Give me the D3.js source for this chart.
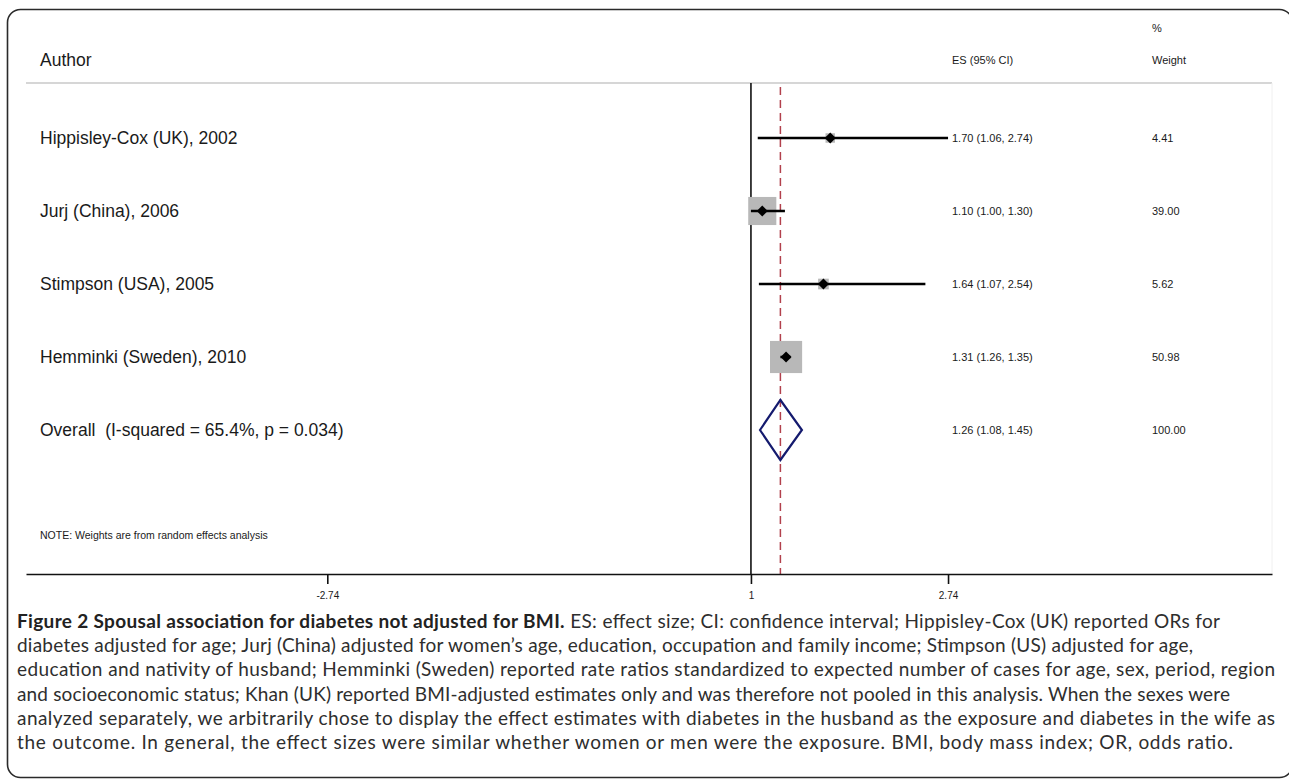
<!DOCTYPE html>
<html>
<head>
<meta charset="utf-8">
<script src="https://cdn.jsdelivr.net/npm/d3@7"></script>
<style>
  body { margin: 0; background: #fff; }
  svg { display: block; }
  text { white-space: pre; }
</style>
</head>
<body>
<div id="chart"></div>
<script>
// study rows
const authors = ["Hippisley-Cox (UK), 2002", "Jurj (China), 2006", "Stimpson (USA), 2005", "Hemminki (Sweden), 2010"];
const es = [1.70, 1.10, 1.64, 1.31];
const lo = [1.06, 1.00, 1.07, 1.26];
const hi = [2.74, 1.30, 2.54, 1.35];
const weights = [4.41, 39.00, 5.62, 50.98];

// pooled estimate
const overallLabel = "Overall  (I-squared = 65.4%, p = 0.034)";
const overallEs = 1.26, overallLo = 1.08, overallHi = 1.45;

const tickValues = [-2.74, 1, 2.74];
const tickLabels = ["-2.74", "1", "2.74"];

const captionBold = "Figure 2 Spousal association for diabetes not adjusted for BMI.";
const captionLines = [
  " ES: effect size; CI: confidence interval; Hippisley-Cox (UK) reported ORs for",
  "diabetes adjusted for age; Jurj (China) adjusted for women\u2019s age, education, occupation and family income; Stimpson (US) adjusted for age,",
  "education and nativity of husband; Hemminki (Sweden) reported rate ratios standardized to expected number of cases for age, sex, period, region",
  "and socioeconomic status; Khan (UK) reported BMI-adjusted estimates only and was therefore not pooled in this analysis. When the sexes were",
  "analyzed separately, we arbitrarily chose to display the effect estimates with diabetes in the husband as the exposure and diabetes in the wife as",
  "the outcome. In general, the effect sizes were similar whether women or men were the exposure. BMI, body mass index; OR, odds ratio."
];
const captionWidths = [1203, 1176, 1258, 1213, 1258, 1216];

const width = 1289, height = 780;
const svg = d3.select("#chart").append("svg")
    .attr("width", width)
    .attr("height", height)
    .style("font-family", "'Liberation Sans', Arial, sans-serif");

// frame
svg.append("rect")
    .attr("x", 7.5).attr("y", 9.5)
    .attr("width", 1285).attr("height", 768)
    .attr("rx", 13)
    .attr("fill", "none")
    .attr("stroke", "#2a2a2a")
    .attr("stroke-width", 1.6);

const plotTop = 83, plotBottom = 574, left = 26, right = 1272;

const x = d3.scaleLinear().domain([-5.4, 5.6]).range([left, right]);
const y = d3.scaleLinear().domain([0, 4]).range([138, 430]);
const side = d3.scaleSqrt().domain([0, 100]).range([0, 45]);

const labelSize = 17.5, smallSize = 11;

// header
svg.append("line")
    .attr("x1", left).attr("x2", right)
    .attr("y1", plotTop).attr("y2", plotTop)
    .attr("stroke", "#c8c8c8").attr("stroke-width", 1.5);

svg.append("line")
    .attr("x1", right).attr("x2", right)
    .attr("y1", plotTop).attr("y2", plotBottom)
    .attr("stroke", "#f0f0f0").attr("stroke-width", 1);

svg.append("text").attr("x", 40).attr("y", 66)
    .attr("font-size", labelSize).attr("fill", "#1a1a1a").text("Author");
svg.append("text").attr("x", 952).attr("y", 64)
    .attr("font-size", smallSize).attr("fill", "#1a1a1a").text("ES (95% CI)");
svg.append("text").attr("x", 1152).attr("y", 32)
    .attr("font-size", smallSize).attr("fill", "#1a1a1a").text("%");
svg.append("text").attr("x", 1152).attr("y", 64)
    .attr("font-size", smallSize).attr("fill", "#1a1a1a").text("Weight");

// null line and overall dashed line
svg.append("line")
    .attr("x1", x(1)).attr("x2", x(1))
    .attr("y1", plotTop).attr("y2", plotBottom)
    .attr("stroke", "#111").attr("stroke-width", 1.6);

svg.append("line")
    .attr("x1", x(overallEs)).attr("x2", x(overallEs))
    .attr("y1", plotTop + 4).attr("y2", plotBottom)
    .attr("stroke", "#b2404c").attr("stroke-width", 1.5)
    .attr("stroke-dasharray", "8,5");

const fmt = d3.format(".2f");
const rows = authors.map((a, i) => ({ a, es: es[i], lo: lo[i], hi: hi[i], w: weights[i], i }));

const g = svg.append("g");

// weight boxes
g.selectAll("rect.box").data(rows).join("rect")
    .attr("class", "box")
    .attr("x", d => x(d.es) - side(d.w) / 2)
    .attr("y", d => y(d.i) - side(d.w) / 2)
    .attr("width", d => side(d.w))
    .attr("height", d => side(d.w))
    .attr("fill", "#b8b8b8");

// confidence intervals
g.selectAll("line.ci").data(rows).join("line")
    .attr("class", "ci")
    .attr("x1", d => x(d.lo)).attr("x2", d => x(d.hi))
    .attr("y1", d => y(d.i)).attr("y2", d => y(d.i))
    .attr("stroke", "#000").attr("stroke-width", 2.5);

// point estimates
g.selectAll("path.pt").data(rows).join("path")
    .attr("class", "pt")
    .attr("d", d => `M${x(d.es) - 5.5},${y(d.i)} L${x(d.es)},${y(d.i) - 5.5} L${x(d.es) + 5.5},${y(d.i)} L${x(d.es)},${y(d.i) + 5.5} Z`)
    .attr("fill", "#000");

g.selectAll("text.lab").data(rows).join("text")
    .attr("class", "lab")
    .attr("x", 40).attr("y", d => y(d.i) + 6)
    .attr("font-size", labelSize).attr("fill", "#1a1a1a")
    .text(d => d.a);

g.selectAll("text.est").data(rows).join("text")
    .attr("class", "est")
    .attr("x", 952).attr("y", d => y(d.i) + 4)
    .attr("font-size", smallSize).attr("fill", "#1a1a1a")
    .text(d => `${fmt(d.es)} (${fmt(d.lo)}, ${fmt(d.hi)})`);

g.selectAll("text.wt").data(rows).join("text")
    .attr("class", "wt")
    .attr("x", 1152).attr("y", d => y(d.i) + 4)
    .attr("font-size", smallSize).attr("fill", "#1a1a1a")
    .text(d => fmt(d.w));

// overall diamond
const oy = y(4);
svg.append("path")
    .attr("d", `M${x(overallLo)},${oy} L${x(overallEs)},${oy - 30} L${x(overallHi)},${oy} L${x(overallEs)},${oy + 30} Z`)
    .attr("fill", "none")
    .attr("stroke", "#141a6e")
    .attr("stroke-width", 2.2);

svg.append("text").attr("x", 40).attr("y", oy + 6)
    .attr("font-size", labelSize).attr("fill", "#1a1a1a").text(overallLabel);
svg.append("text").attr("x", 952).attr("y", oy + 4)
    .attr("font-size", smallSize).attr("fill", "#1a1a1a")
    .text(`${fmt(overallEs)} (${fmt(overallLo)}, ${fmt(overallHi)})`);
svg.append("text").attr("x", 1152).attr("y", oy + 4)
    .attr("font-size", smallSize).attr("fill", "#1a1a1a").text(fmt(100));

svg.append("text").attr("x", 40).attr("y", 539)
    .attr("font-size", 10.5).attr("fill", "#1a1a1a")
    .text("NOTE: Weights are from random effects analysis");

// x axis
const axis = svg.append("g")
    .attr("transform", `translate(0,${plotBottom})`)
    .call(d3.axisBottom(x).tickValues(tickValues).tickSize(10).tickSizeOuter(0)
        .tickFormat((d, i) => tickLabels[i]));
axis.select(".domain").attr("stroke", "#111").attr("stroke-width", 1.6);
axis.selectAll(".tick line").attr("stroke", "#111").attr("stroke-width", 1.6);
axis.selectAll(".tick text")
    .attr("y", 18)
    .attr("font-size", 10)
    .attr("fill", "#1a1a1a")
    .style("font-family", "'Liberation Sans', Arial, sans-serif");

// caption
const cap = svg.append("g")
    .style("font-family", "Lato, 'Open Sans', sans-serif")
    .attr("fill", "#2e2e2e")
    .attr("font-size", 19);

captionLines.forEach((line, i) => {
  const t = cap.append("text")
      .attr("x", 17)
      .attr("y", 628 + i * 24.2)
      .attr("textLength", captionWidths[i])
      .attr("lengthAdjust", "spacing");
  if (i === 0) {
    t.append("tspan").attr("font-weight", "bold").attr("fill", "#222").text(captionBold);
  }
  t.append("tspan").text(line);
});
</script>
</body>
</html>
